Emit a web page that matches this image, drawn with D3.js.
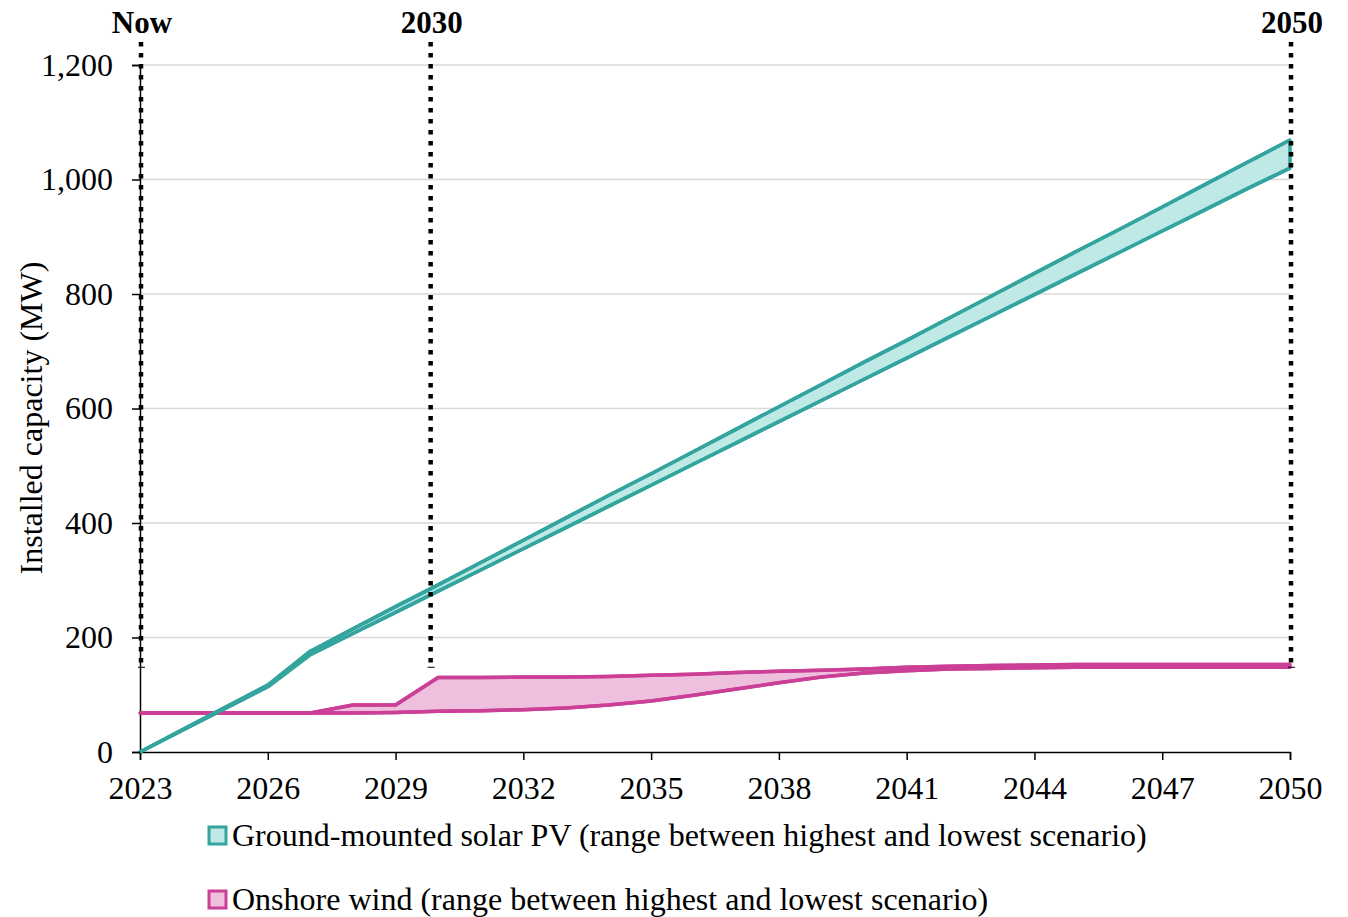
<!DOCTYPE html>
<html><head><meta charset="utf-8">
<script src="https://cdn.jsdelivr.net/npm/d3@7"></script>
<style>body{margin:0;background:#fff}svg{display:block}text{font-family:"Liberation Serif","Times New Roman",serif;fill:#000}</style>
</head><body><svg id="c" width="1348" height="917"></svg>
<script>
const years = d3.range(2023, 2051);
const solarHigh = [0,39,78,117,176,215,254,292,331,370,409,448,486,525,564,603,642,681,719,758,797,836,875,913,952,991,1030,1069];
const solarLow  = [0,38,76,114,170,207,244,281,318,355,392,429,466,503,540,577,614,651,688,725,762,799,836,873,910,947,984,1020];
const windHigh  = [68,68,68,68,68,82,82,130,130,131,131,132,134,136,139,141,143,145,148,150,151,152,153,153,153,153,153,153];
const windLow   = [68,68,68,68,68,68,69,71,72,74,77,82,89,99,110,121,131,138,142,145,146,147,148,148,148,148,148,148];
const markerYears = [2023, 2029.8, 2050];
const markerLabels = ["Now", "2030", "2050"];
const markerTop = [1240, 1240, 1240];
const markerBottom = [148, 148, 148];
const yTicks = [0,200,400,600,800,1000,1200];
const xTicks = [2023,2026,2029,2032,2035,2038,2041,2044,2047,2050];
const legendLabels = ["Ground-mounted solar PV (range between highest and lowest scenario)",
                      "Onshore wind (range between highest and lowest scenario)"];

const FS = "32px";
const svg = d3.select("#c");
const x = d3.scaleLinear().domain([2023, 2050]).range([140, 1290]);
const y = d3.scaleLinear().domain([0, 1200]).range([752, 65]);

svg.append("g").selectAll("line").data(yTicks.filter(d=>d>0)).join("line")
  .attr("x1", x(2023)).attr("x2", x(2050)).attr("y1", d=>y(d)).attr("y2", d=>y(d))
  .attr("stroke", "#d9d9d9").attr("stroke-width", 1.5);

const series = [
  {hi: solarHigh, lo: solarLow, stroke: "#33a59e", fill: "#bfe9e7"},
  {hi: windHigh, lo: windLow, stroke: "#cb3f97", fill: "#eec0dd"}
];
const area = d3.area().x((d,i)=>x(years[i])).y0(d=>y(d[0])).y1(d=>y(d[1]));
const line = d3.line().x((d,i)=>x(years[i])).y(d=>d);

[series[1], series[0]].forEach(s => {
  const pts = s.hi.map((v,i)=>[s.lo[i], v]);
  svg.append("path").datum(pts).attr("d", area).attr("fill", s.fill)
    .attr("stroke", s.stroke).attr("stroke-width", 3.5).attr("stroke-linejoin", "round");
});

const yAxis = svg.append("g").attr("transform", `translate(${x(2023)},0)`)
  .call(d3.axisLeft(y).tickValues(yTicks).tickFormat(d3.format(",")).tickSize(8).tickPadding(19));
const xAxis = svg.append("g").attr("transform", `translate(0,${y(0)})`)
  .call(d3.axisBottom(x).tickValues(xTicks).tickFormat(d3.format("d")).tickSize(8).tickPadding(16));
[yAxis, xAxis].forEach(a => {
  a.select(".domain").attr("stroke", "#000").attr("stroke-width", 1.5);
  a.selectAll(".tick line").attr("stroke", "#000").attr("stroke-width", 1.5);
  a.selectAll("text").style("font-family", '"Liberation Serif", serif').style("font-size", FS).attr("fill", "#000");
});
xAxis.selectAll("text").attr("dy", "0.71em");

[series[1], series[0]].forEach(s => {
  [s.lo, s.hi].forEach(arr => {
    svg.append("path").datum(arr.map(v=>y(v))).attr("d", line).attr("fill", "none")
      .attr("stroke", s.stroke).attr("stroke-width", 3.5).attr("stroke-linejoin", "round");
  });
});

const mk = svg.append("g");
markerYears.forEach((yr, i) => {
  mk.append("line").attr("x1", x(yr)+1).attr("x2", x(yr)+1)
    .attr("y1", y(markerTop[i])).attr("y2", y(markerBottom[i]))
    .attr("stroke", "#000").attr("stroke-width", 4.5).attr("stroke-dasharray", "4.5,6.5");
  mk.append("line").attr("x1", x(yr)-2).attr("x2", x(yr)+5)
    .attr("y1", y(markerBottom[i])).attr("y2", y(markerBottom[i]))
    .attr("stroke", "#000").attr("stroke-width", 1);
  mk.append("text").attr("x", x(yr)+2).attr("y", 33).attr("text-anchor", "middle")
    .style("font-size", "31px").style("font-weight", "bold").text(markerLabels[i]);
});

svg.append("text").attr("transform", "translate(42,418) rotate(-90)").attr("text-anchor", "middle")
  .style("font-size", FS).text("Installed capacity (MW)");

legendLabels.forEach((t, i) => {
  const ly = 836 + i*64;
  const s = series[i];
  svg.append("rect").attr("x", 209).attr("y", ly-9).attr("width", 17).attr("height", 17)
    .attr("fill", s.fill).attr("stroke", s.stroke).attr("stroke-width", 3);
  svg.append("text").attr("x", 232).attr("y", ly+10).style("font-size", FS).text(t);
});
</script></body></html>
